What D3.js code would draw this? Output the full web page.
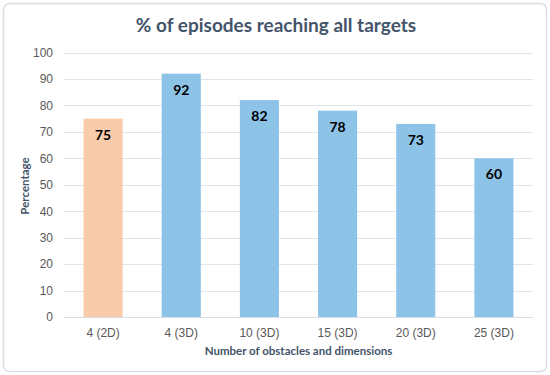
<!DOCTYPE html>
<html>
<head>
<meta charset="utf-8">
<script src="https://cdn.jsdelivr.net/npm/d3@7"></script>
<style>
  body { margin: 0; background: #fff; }
  svg { display: block; font-family: Lato, "Open Sans", sans-serif; }
</style>
</head>
<body>
<svg width="550" height="375"></svg>
<script>
// chart data
const categories = ["4 (2D)", "4 (3D)", "10 (3D)", "15 (3D)", "20 (3D)", "25 (3D)"];
const values = [75, 92, 82, 78, 73, 60];
const barColors = ["#F8CBAA", "#8DC3E7", "#8DC3E7", "#8DC3E7", "#8DC3E7", "#8DC3E7"];
const yTicks = [0, 10, 20, 30, 40, 50, 60, 70, 80, 90, 100];

const svg = d3.select("svg");
const margin = {top: 52.5, right: 17, bottom: 58, left: 64};
const width = 550, height = 375;

// outer frame
svg.append("rect")
    .attr("x", 3.5).attr("y", 3.5)
    .attr("width", width - 7).attr("height", height - 7)
    .attr("rx", 6)
    .attr("fill", "#fff")
    .attr("stroke", "#D9DEE4")
    .attr("stroke-width", 1.5);

const x = d3.scaleBand()
    .domain(categories)
    .range([margin.left, width - margin.right])
    .paddingInner(0.5)
    .paddingOuter(0.25);

const y = d3.scaleLinear()
    .domain([0, 100])
    .range([height - margin.bottom, margin.top]);

// gridlines
svg.append("g")
    .selectAll("line")
    .data(yTicks)
    .join("line")
    .attr("x1", margin.left).attr("x2", width - margin.right)
    .attr("y1", d => Math.round(y(d)) + 0.5).attr("y2", d => Math.round(y(d)) + 0.5)
    .attr("stroke", "#E1E5EA")
    .attr("stroke-width", 1);

// y axis labels
const yAxis = svg.append("g")
    .attr("transform", `translate(${margin.left},0)`)
    .call(d3.axisLeft(y).tickValues(yTicks).tickSize(0).tickPadding(11));
yAxis.select(".domain").remove();
yAxis.selectAll("text")
    .attr("fill", "#595959")
    .style("font-size", "12px");

// x axis labels
const xAxis = svg.append("g")
    .attr("transform", `translate(0,${height - margin.bottom})`)
    .call(d3.axisBottom(x).tickSize(0).tickPadding(11));
xAxis.select(".domain")
    .attr("stroke", "#D9DEE4");
xAxis.selectAll("text")
    .attr("fill", "#595959")
    .style("font-size", "12px");

// bars
svg.append("g")
    .selectAll("rect")
    .data(values)
    .join("rect")
    .attr("x", (d, i) => x(categories[i]))
    .attr("y", d => y(d))
    .attr("width", x.bandwidth())
    .attr("height", d => y(0) - y(d))
    .attr("fill", (d, i) => barColors[i]);

// value labels
svg.append("g")
    .selectAll("text")
    .data(values)
    .join("text")
    .attr("x", (d, i) => x(categories[i]) + x.bandwidth() / 2)
    .attr("y", d => y(d) + 21)
    .attr("text-anchor", "middle")
    .attr("fill", "#000")
    .style("font-size", "14px")
    .style("font-weight", "bold")
    .text(d => d);

// title
svg.append("text")
    .attr("x", 276).attr("y", 32)
    .attr("text-anchor", "middle")
    .attr("fill", "#44546A")
    .style("font-size", "19px")
    .style("font-weight", "bold")
    .text("% of episodes reaching all targets");

// axis titles
svg.append("text")
    .attr("x", (margin.left + width - margin.right) / 2)
    .attr("y", 355)
    .attr("text-anchor", "middle")
    .attr("fill", "#44546A")
    .style("font-size", "11.5px")
    .style("font-weight", "bold")
    .text("Number of obstacles and dimensions");

svg.append("text")
    .attr("transform", "translate(29,186) rotate(-90)")
    .attr("text-anchor", "middle")
    .attr("fill", "#44546A")
    .style("font-size", "11.5px")
    .style("font-weight", "bold")
    .text("Percentage");
</script>
</body>
</html>
